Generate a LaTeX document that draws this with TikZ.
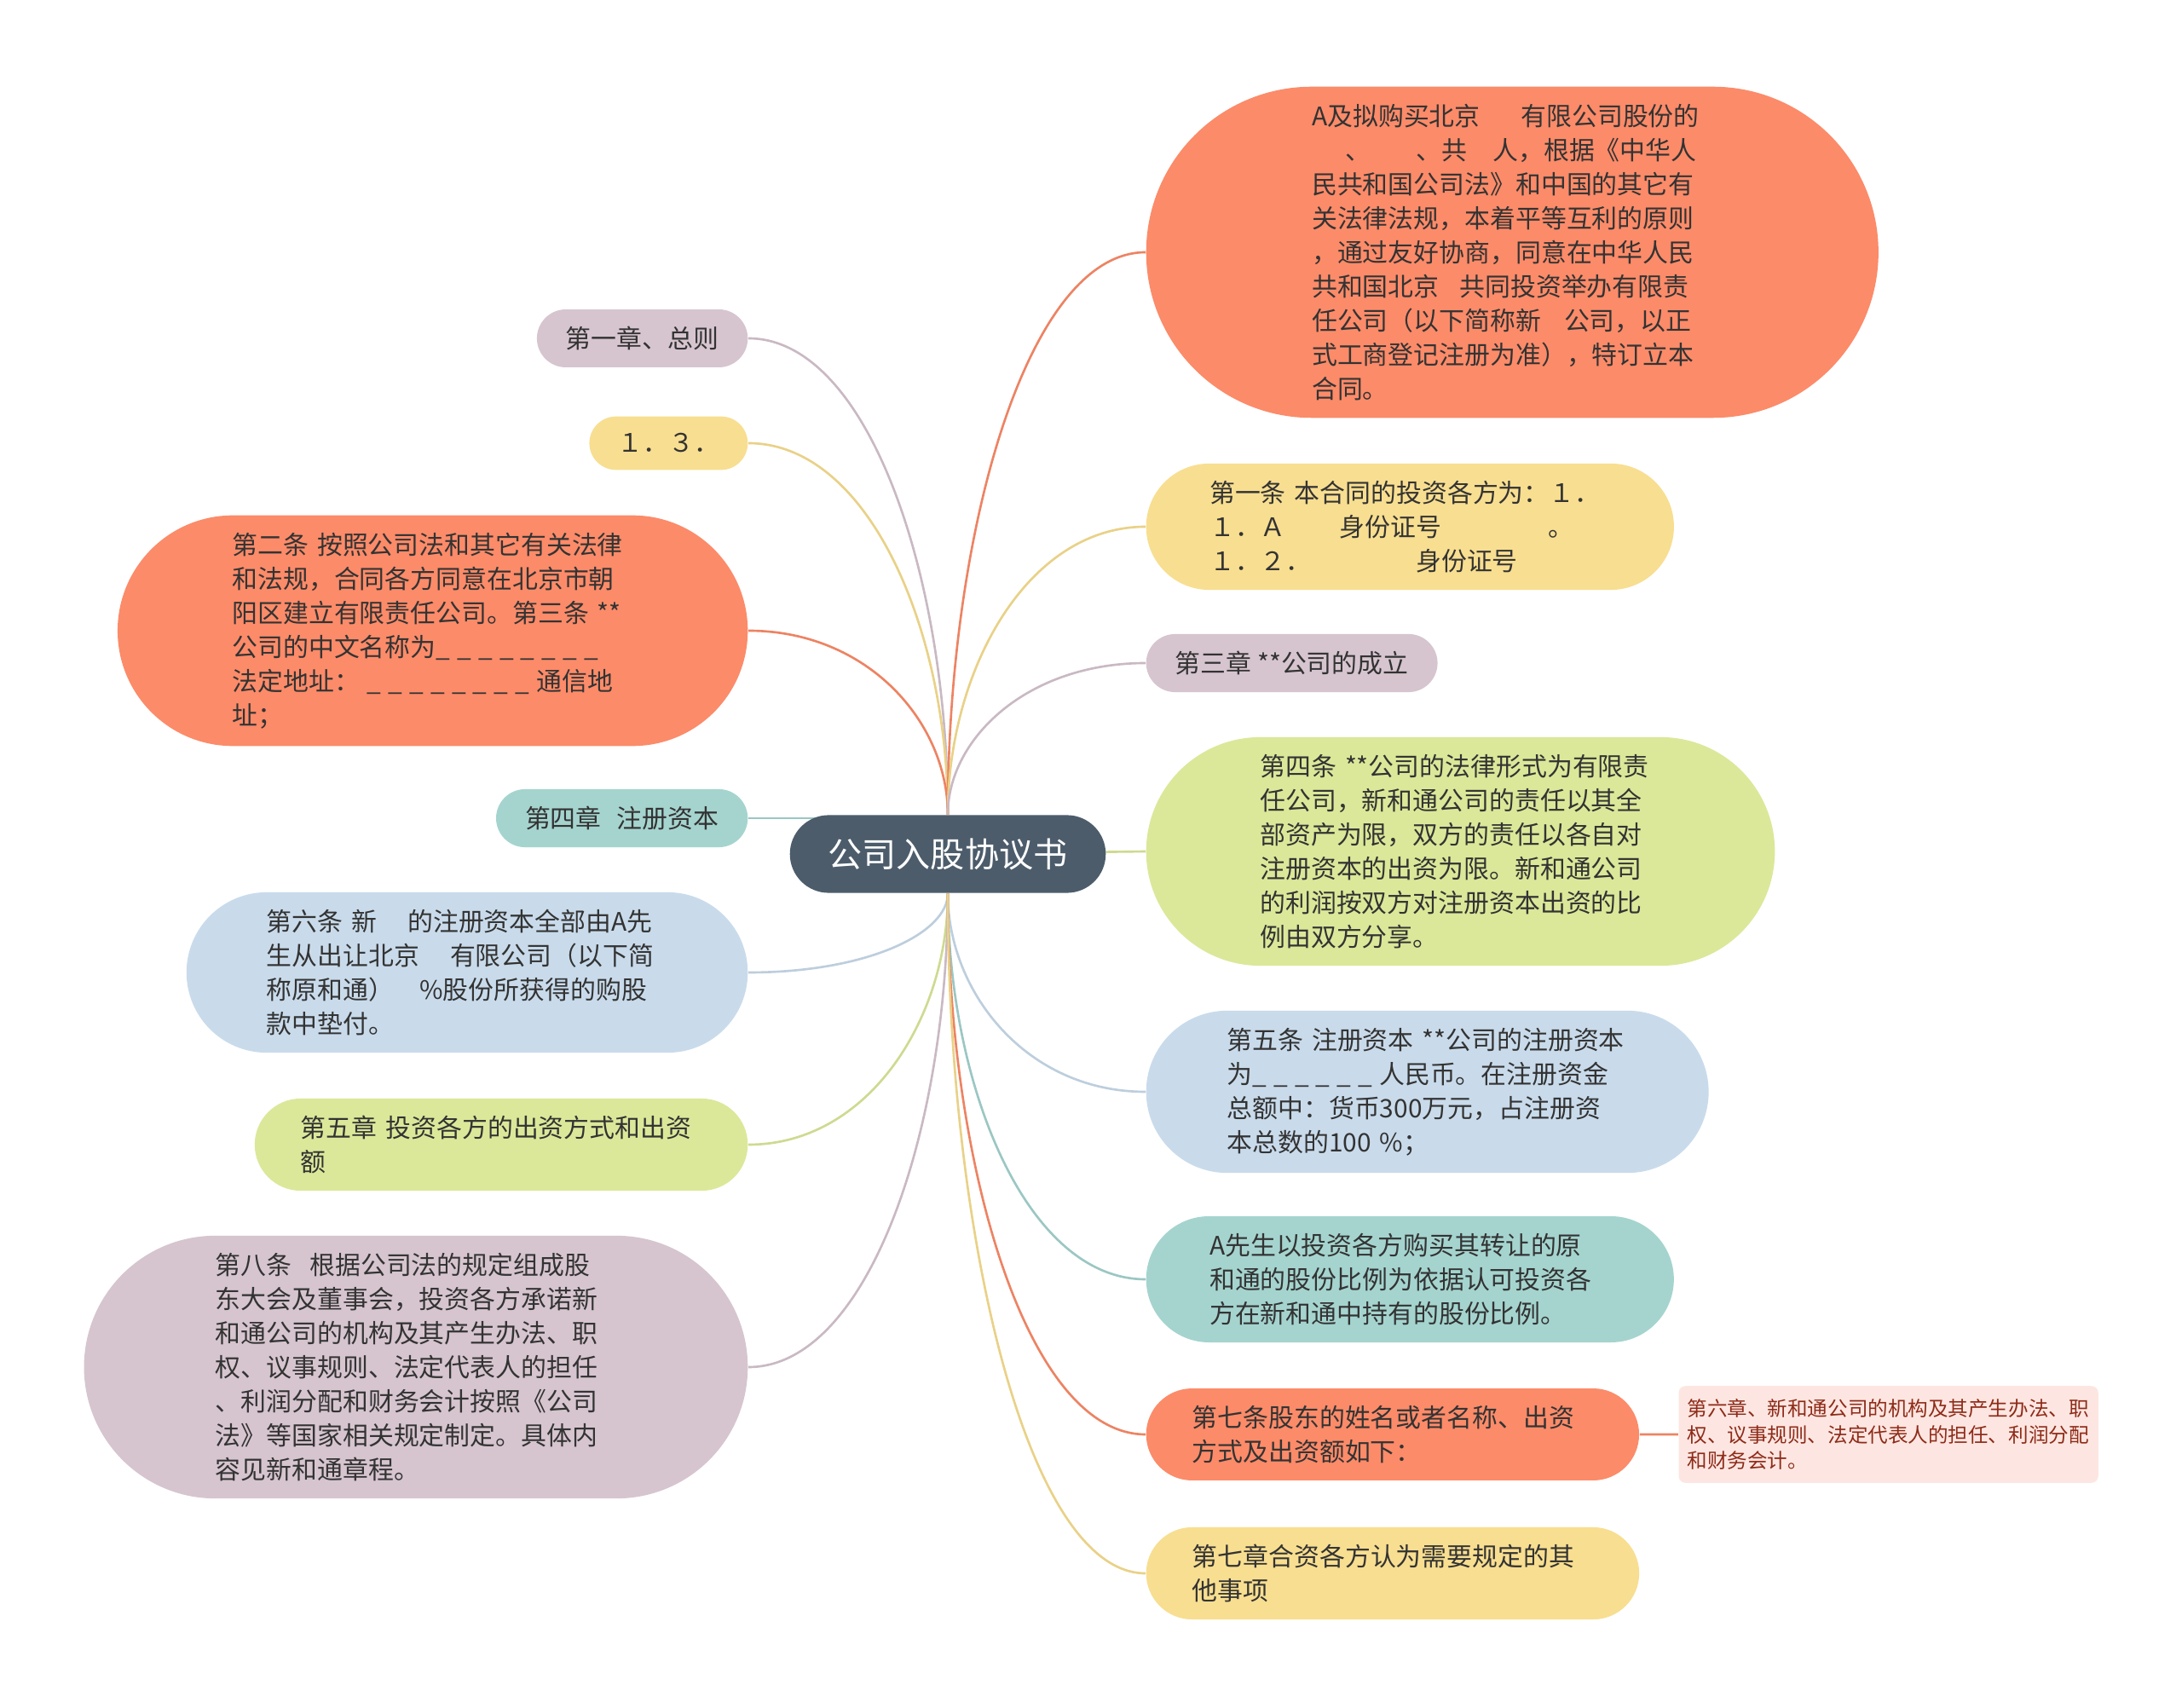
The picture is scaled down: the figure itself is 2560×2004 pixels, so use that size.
\documentclass[tikz,border=0pt]{standalone}
\usepackage{fontspec}
\setmainfont{Noto Sans CJK SC}
\usetikzlibrary{positioning, calc, backgrounds, shapes.misc}

\definecolor{cSalmon}{HTML}{FC8B69}
\definecolor{cYellow}{HTML}{F8DE90}
\definecolor{cMauve}{HTML}{D6C5CF}
\definecolor{cTeal}{HTML}{A5D4CF}
\definecolor{cBlue}{HTML}{C9DBEB}
\definecolor{cGreen}{HTML}{DBE899}
\definecolor{cRoot}{HTML}{4C5C6B}
\definecolor{cPink}{HTML}{FDE6E1}
\definecolor{cRed}{HTML}{8E2B19}
\definecolor{cText}{HTML}{333333}

\tikzset{
  topic/.style={rounded rectangle, fill=#1, text=cText, inner xsep=0.31cm,
    inner ysep=0.2cm, font=\fontsize{8.5pt}{11.4pt}\selectfont},
  para/.style={text width=4.7cm, align=left, inner xsep=#1},
  hub/.style={rounded rectangle, fill=cRoot, text=white, inner xsep=0.41cm,
    inner ysep=0.27cm, font=\fontsize{11.4pt}{14pt}\selectfont},
  note/.style={rectangle, rounded corners=0.08cm, fill=cPink, text=cRed,
    inner xsep=0.1cm, inner ysep=0.155cm, text width=4.72cm, align=left,
    font=\fontsize{6.7pt}{8.6pt}\selectfont},
  branch/.style={draw=#1!94!black, line width=0.75pt},
}
\newcommand{\blankmark}{\makebox[0.83em][l]{\_}}

\begin{document}
\begin{tikzpicture}[x=0.01cm,y=-0.01cm]
\def\xl{878}
\def\xr{1344}
\useasboundingbox (0,0) rectangle (2560,2004);

\node[hub] (root) at (1112,1002) {公司入股协议书};

\node[topic=cMauve, anchor=east] (l1) at (\xl,397) {第一章、总则};
\node[topic=cYellow, anchor=east] (l2) at (\xl,520) {１．３．};
\node[topic=cSalmon, para=0.70cm, anchor=east] (l3) at (\xl,740) {第二条~按照公司法和其它有关法律\\
  和法规，合同各方同意在北京市朝\\
  阳区建立有限责任公司。第三条~**\\
  公司的中文名称为\blankmark\blankmark\blankmark\blankmark\blankmark\blankmark\blankmark\blankmark\\
  法定地址：\hspace*{0.3em}\blankmark\blankmark\blankmark\blankmark\blankmark\blankmark\blankmark\blankmark 通信地\\
  址；};
\node[topic=cTeal, anchor=east] (l4) at (\xl,960) {第四章\hspace*{0.6em}注册资本};
\node[topic=cBlue, para=0.58cm, anchor=east] (l5) at (\xl,1141) {第六条~新\hspace*{1.2em}的注册资本全部由A先\\
  生从出让北京\hspace*{1.2em}有限公司（以下简\\
  称原和通）\hspace*{1em}\%股份所获得的购股\\
  款中垫付。};
\node[topic=cGreen, para=0.42cm, anchor=east] (l6) at (\xl,1343) {第五章~投资各方的出资方式和出资\\额};
\node[topic=cMauve, para=0.76cm, anchor=east] (l7) at (\xl,1604) {第八条\hspace*{0.7em}根据公司法的规定组成股\\
  东大会及董事会，投资各方承诺新\\
  和通公司的机构及其产生办法、职\\
  权、议事规则、法定代表人的担任\\
  、利润分配和财务会计按照《公司\\
  法》等国家相关规定制定。具体内\\
  容见新和通章程。};

\node[topic=cSalmon, para=0.86cm, anchor=west] (r1) at (\xr,296) {A及拟购买北京\hspace*{1.6em}有限公司股份的\\
  \hspace*{1.3em}、\hspace*{1.8em}、共\hspace*{1em}人，根据《中华人\\
  民共和国公司法》和中国的其它有\\
  关法律法规，本着平等互利的原则\\
  ，通过友好协商，同意在中华人民\\
  共和国北京\hspace*{0.8em}共同投资举办有限责\\
  任公司（以下简称新\hspace*{0.9em}公司，以正\\
  式工商登记注册为准），特订立本\\
  合同。};
\node[topic=cYellow, para=0.51cm, anchor=west] (r2) at (\xr,618) {第一条~本合同的投资各方为：１．\\
  １．Ａ\hspace*{2.1em}身份证号\hspace*{4.2em}。\\
  １．２．\hspace*{4.1em}身份证号};
\node[topic=cMauve, anchor=west] (r3) at (\xr,778) {第三章~**公司的成立};
\node[topic=cGreen, para=0.70cm, anchor=west] (r4) at (\xr,999) {第四条~**公司的法律形式为有限责\\
  任公司，新和通公司的责任以其全\\
  部资产为限，双方的责任以各自对\\
  注册资本的出资为限。新和通公司\\
  的利润按双方对注册资本出资的比\\
  例由双方分享。};
\node[topic=cBlue, para=0.58cm, anchor=west] (r5) at (\xr,1281) {第五条~注册资本~**公司的注册资本\\
  为\blankmark\blankmark\blankmark\blankmark\blankmark\blankmark 人民币。在注册资金\\
  总额中：货币300万元，占注册资\\
  本总数的100~\%；};
\node[topic=cTeal, para=0.51cm, anchor=west] (r6) at (\xr,1501) {A先生以投资各方购买其转让的原\\
  和通的股份比例为依据认可投资各\\
  方在新和通中持有的股份比例。};
\node[topic=cSalmon, para=0.42cm, anchor=west] (r7) at (\xr,1683) {第七条股东的姓名或者名称、出资\\
  方式及出资额如下：};
\node[topic=cYellow, para=0.42cm, anchor=west] (r8) at (\xr,1846) {第七章合资各方认为需要规定的其\\
  他事项};

\node[note, right=0.45cm of r7] (sub) {第六章、新和通公司的机构及其产生办法、职\\
  权、议事规则、法定代表人的担任、利润分配\\
  和财务会计。};

\begin{scope}[on background layer]
\fill[white] (0,0) rectangle (2560,2004);
\foreach \kid/\side/\col in {l1/east/cMauve, l2/east/cYellow, l3/east/cSalmon,
    r1/west/cSalmon, r2/west/cYellow, r3/west/cMauve}
  \draw[branch=\col] (root.north) .. controls ($(root.north)!0.5!(root.north |- \kid.\side)$)
    and ($(\kid.\side)!0.6!(root.north |- \kid.\side)$) .. (\kid.\side);
\foreach \kid/\side/\col in {l5/east/cBlue, l6/east/cGreen, l7/east/cMauve,
    r5/west/cBlue, r6/west/cTeal, r7/west/cSalmon, r8/west/cYellow}
  \draw[branch=\col] (root.south) .. controls ($(root.south)!0.5!(root.south |- \kid.\side)$)
    and ($(\kid.\side)!0.6!(root.south |- \kid.\side)$) .. (\kid.\side);
\draw[branch=cTeal] (l4.east) -- (l4.east -| root.center);
\draw[branch=cGreen] (root.center) -- (r4.west);
\draw[branch=cSalmon] (r7) -- (sub);
\end{scope}
\end{tikzpicture}
\end{document}
